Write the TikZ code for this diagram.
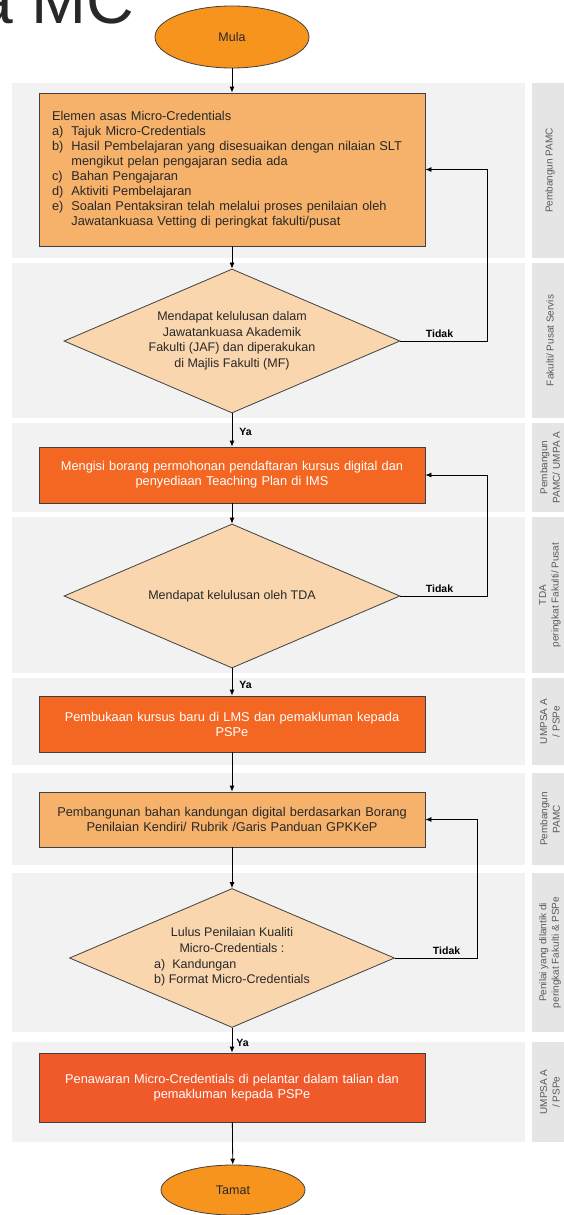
\documentclass[tikz,border=0pt]{standalone}
\usepackage{fontspec}
\setmainfont{Liberation Sans}
\usetikzlibrary{shapes.geometric, arrows.meta, positioning}
\definecolor{mcorange}{RGB}{247,148,30}
\definecolor{mcpeach}{RGB}{246,178,107}
\definecolor{mcsand}{RGB}{249,214,174}
\definecolor{mcred}{RGB}{243,103,35}
\definecolor{mcredd}{RGB}{240,89,42}
\definecolor{mcline}{RGB}{64,64,64}
\definecolor{mctext}{RGB}{40,40,40}
\definecolor{lanebg}{RGB}{242,242,242}
\definecolor{stripbg}{RGB}{229,229,229}
\definecolor{lanetext}{RGB}{90,90,90}
\tikzset{
  terminal/.style={ellipse, draw=mcline, fill=mcorange, inner sep=0pt,
    font=\fontsize{12.5}{15}\selectfont, text=mctext, line width=0.8pt},
  lightbox/.style={rectangle, draw=mcline, fill=mcpeach, minimum width=386pt,
    font=\fontsize{12.8}{15}\selectfont, text=mctext, line width=0.8pt},
  darkbox/.style={rectangle, draw=mcline, fill=mcred, minimum width=386pt,
    text width=370pt, align=center, minimum height=56pt,
    font=\fontsize{12.8}{15}\selectfont, text=white, line width=0.8pt},
  decision/.style={diamond, aspect=2.33, draw=mcline, fill=mcsand, inner sep=0pt,
    align=center, font=\fontsize{12.5}{15.5}\selectfont, text=mctext, line width=0.8pt},
  lanelabel/.style={rotate=90, align=center, text=lanetext,
    font=\fontsize{10}{12.5}\selectfont},
  yesno/.style={font=\bfseries\fontsize{10.5}{12}\selectfont, text=black, inner sep=1pt},
  arrow/.style={-{Latex[length=6pt, width=5pt]}, line width=0.8pt, color=black},
  line/.style={line width=0.8pt, color=black}
}

\begin{document}
\begin{tikzpicture}[x=1pt, y=-1pt]
  \useasboundingbox (0,0) rectangle (564,1215);
  \node[anchor=base west, inner sep=0pt, text=mctext,
    font=\fontsize{66}{70}\selectfont] (title) at (-24,24) {a MC};

  % lanes
  \foreach \ya/\yb/\lbl [count=\i] in {83/258/{Pembangun PAMC},
      263/418/{Fakulti/ Pusat Servis}, 423/512/{Pembangun\\PAMC/ UMPA A},
      517/673/{TDA\\peringkat Fakulti/ Pusat}, 678/765/{UMPSA A\\/ PSPe},
      773/865/{Pembangun\\PAMC}, 873/1032/{Penilai yang dilantik di\\peringkat Fakulti \& PSPe},
      1042/1142/{UMPSA A\\/ PSPe}}{
    \fill[lanebg] (12,\ya) rectangle (525,\yb);
    \fill[stripbg] (532,\ya) rectangle (572,\yb);
    \node[lanelabel] (lane\i) at (550,{(\ya+\yb)/2}) {\lbl};
  }

  \node[terminal, minimum width=154pt, minimum height=62pt] (mula) at (232,37) {Mula};
  \node[lightbox, minimum height=153pt, text width=360pt, align=left] (elemen) at (232,169.5) {%
    \begin{tabular}{@{}l@{\hspace{8pt}}l@{}}
      \multicolumn{2}{@{}l}{Elemen asas Micro-Credentials}\\
      a) & Tajuk Micro-Credentials\\
      b) & Hasil Pembelajaran yang disesuaikan dengan nilaian SLT\\
         & mengikut pelan pengajaran sedia ada\\
      c) & Bahan Pengajaran\\
      d) & Aktiviti Pembelajaran\\
      e) & Soalan Pentaksiran telah melalui proses penilaian oleh\\
         & Jawatankuasa Vetting di peringkat fakulti/pusat
    \end{tabular}};
  \node[decision, minimum width=336pt, minimum height=144pt] (jaf) at (232,341)
    {Mendapat kelulusan dalam\\Jawatankuasa Akademik\\Fakulti (JAF) dan diperakukan\\di Majlis Fakulti (MF)};
  \node[darkbox] (borang) at (232,475)
    {Mengisi borang permohonan pendaftaran kursus digital dan\\penyediaan Teaching Plan di IMS};
  \node[decision, minimum width=336pt, minimum height=144pt] (tda) at (232,596)
    {Mendapat kelulusan oleh TDA};
  \node[darkbox] (lms) at (232,724)
    {Pembukaan kursus baru di LMS dan pemakluman kepada\\PSPe};
  \node[lightbox, minimum height=55pt, text width=370pt, align=center] (bahan) at (232,819.5)
    {Pembangunan bahan kandungan digital berdasarkan Borang\\Penilaian Kendiri/ Rubrik /Garis Panduan GPKKeP};
  \node[decision, minimum width=325pt, minimum height=139pt] (kualiti) at (232,958)
    {Lulus Penilaian Kualiti\\Micro-Credentials :\\[4pt]%
     \begin{tabular}{@{}l@{}}a)\hspace{7pt}Kandungan\\b) Format Micro-Credentials\end{tabular}};
  \node[darkbox, fill=mcredd, minimum height=69pt] (tawar) at (232,1087.5)
    {Penawaran Micro-Credentials di pelantar dalam talian dan\\pemakluman kepada PSPe};
  \node[terminal, minimum width=144pt, minimum height=50pt] (tamat) at (233,1190) {Tamat};

  \draw[arrow] (mula) -- (elemen);
  \draw[arrow] (elemen) -- (jaf);
  \draw[arrow] (jaf) -- node[yesno, right=6pt, pos=0.55] {Ya} (borang);
  \draw[arrow] (borang) -- (tda);
  \draw[arrow] (tda) -- node[yesno, right=6pt, pos=0.6] {Ya} (lms);
  \draw[arrow] (lms) -- (bahan);
  \draw[arrow] (bahan) -- (kualiti);
  \draw[arrow] (kualiti) -- node[yesno, right=3pt, pos=0.6] {Ya} (tawar);
  \draw[arrow] (tawar) -- (tamat);

  \draw[arrow] (jaf.east) -- node[yesno, above=2pt, pos=0.45] {Tidak} ++(87,0) |- (elemen.east);
  \draw[arrow] (tda.east) -- node[yesno, above=2pt, pos=0.45] {Tidak} ++(87,0) |- (borang.east);
  \draw[arrow] (kualiti.east) -- node[yesno, above=2pt, pos=0.63] {Tidak} ++(82,0) |- (bahan.east);
\end{tikzpicture}
\end{document}
